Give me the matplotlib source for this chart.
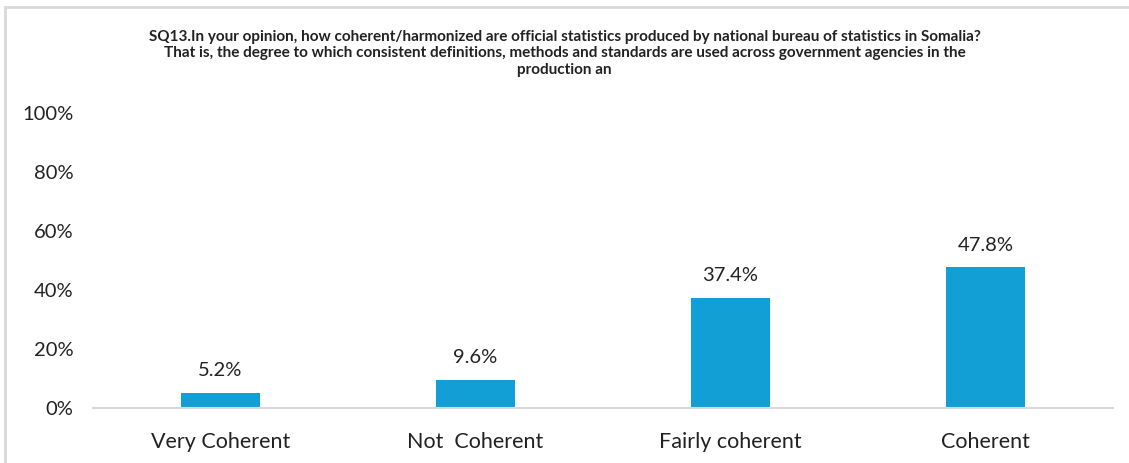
import matplotlib.pyplot as plt
from matplotlib.patches import Rectangle
from matplotlib.ticker import PercentFormatter

plt.rcParams['font.family'] = ['Lato', 'DejaVu Sans']

# Survey responses
categories = ["Very Coherent", "Not  Coherent", "Fairly coherent", "Coherent"]
shares = [5.2, 9.6, 37.4, 47.8]
title_lines = [
    "SQ13.In your opinion, how coherent/harmonized are official statistics produced by national bureau of statistics in Somalia?",
    "That is, the degree to which consistent definitions, methods and standards are used across government agencies in the",
    "production an",
]

fig = plt.figure(figsize=(11.29, 4.63), dpi=100)
ax = fig.add_axes([93 / 1129, 1 - 408 / 463, 1020 / 1129, 295 / 463])

bar_color = "#119FD6"
x = range(len(categories))
bars = ax.bar(x, shares, width=0.31, color=bar_color, zorder=2)

for rect, v in zip(bars, shares):
    ax.text(rect.get_x() + rect.get_width() / 2, v + 4.5, f"{v:.1f}%",
            ha="center", va="bottom", fontsize=14.5, color="#222222")

ax.set_xlim(-0.5, len(categories) - 0.5)
ax.set_ylim(0, 100)
ax.set_yticks([0, 20, 40, 60, 80, 100])
ax.yaxis.set_major_formatter(PercentFormatter(decimals=0))
ax.set_xticks(list(x))
ax.set_xticklabels(categories)
ax.tick_params(axis="both", length=0, colors="#222222")
ax.tick_params(axis="y", pad=14, labelsize=14.5)
ax.tick_params(axis="x", pad=17, labelsize=15.5)

for side in ["top", "right", "left"]:
    ax.spines[side].set_visible(False)
ax.spines["bottom"].set_color("#D9D9D9")
ax.spines["bottom"].set_linewidth(1.5)

# Title block
for i, line in enumerate(title_lines):
    fig.text(0.5, 1 - (37 + i * 16.5) / 463, line, ha="center", va="center",
             fontsize=11, fontweight="bold", color="#222222")

# Outer chart frame
fig.patches.append(Rectangle((4.5 / 1129, -0.05), 1.2, 1 - 6.5 / 463 + 0.05,
                             transform=fig.transFigure, fill=False,
                             edgecolor="#D9D9D9", linewidth=2))

fig.savefig("out.png", dpi=100)
